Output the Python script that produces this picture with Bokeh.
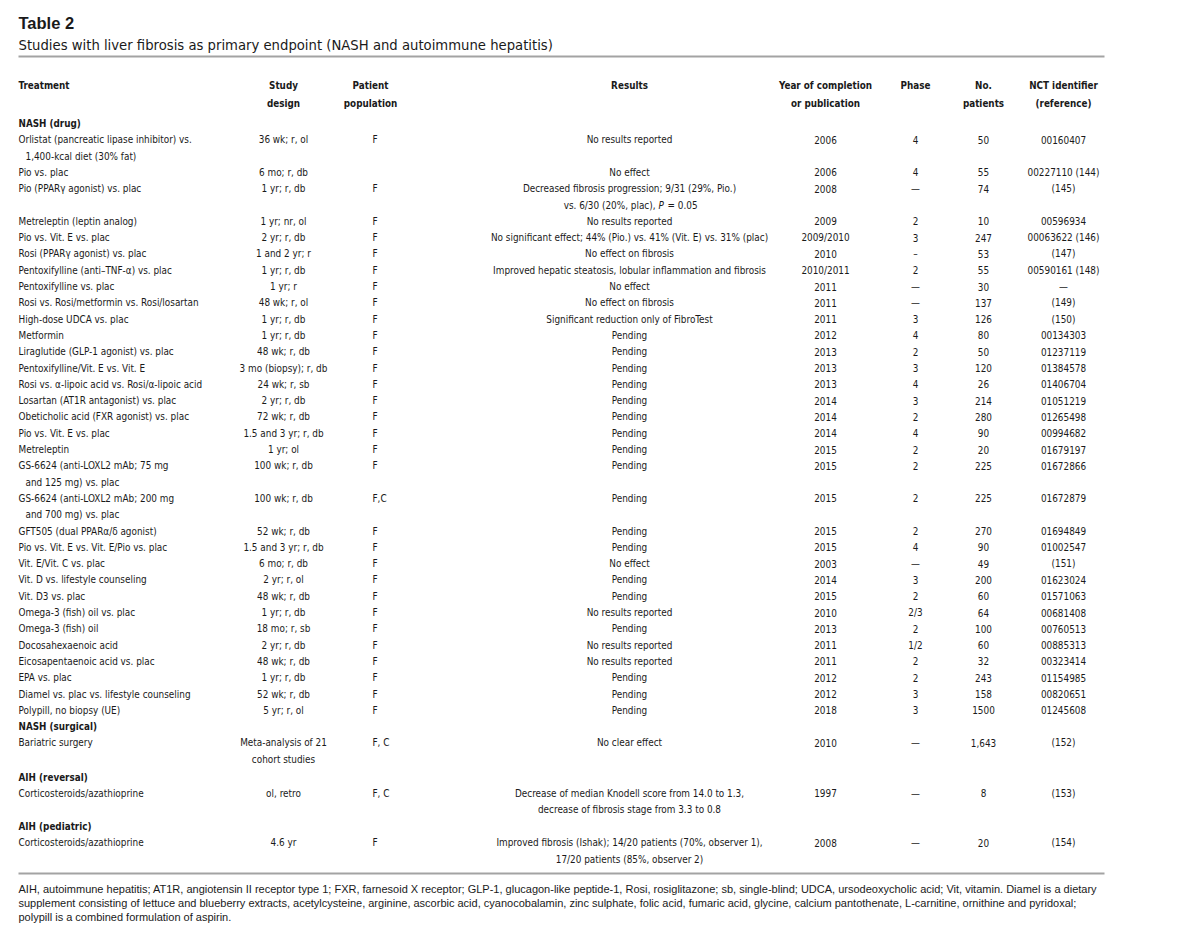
from collections import defaultdict
from bokeh.plotting import figure
from bokeh.models import ColumnDataSource, Range1d
from bokeh.core.properties import value
from bokeh.embed import file_html
from bokeh.resources import INLINE

# ---------------- data ----------------
title = "Table 2"
subtitle = "Studies with liver fibrosis as primary endpoint (NASH and autoimmune hepatitis)"

col_headers = [
    ["Treatment"],
    ["Study", "design"],
    ["Patient", "population"],
    ["Results"],
    ["Year of completion", "or publication"],
    ["Phase"],
    ["No.", "patients"],
    ["NCT identifier", "(reference)"],
]

sections = ["NASH (drug)", "NASH (surgical)", "AIH (reversal)", "AIH (pediatric)"]
section_of_row = [0] * 32 + [1, 2, 3]

treatment = [
    "Orlistat (pancreatic lipase inhibitor) vs.\n1,400-kcal diet (30% fat)",
    "Pio vs. plac",
    "Pio (PPARγ agonist) vs. plac",
    "Metreleptin (leptin analog)",
    "Pio vs. Vit. E vs. plac",
    "Rosi (PPARγ agonist) vs. plac",
    "Pentoxifylline (anti–TNF-α) vs. plac",
    "Pentoxifylline vs. plac",
    "Rosi vs. Rosi/metformin vs. Rosi/losartan",
    "High-dose UDCA vs. plac",
    "Metformin",
    "Liraglutide (GLP-1 agonist) vs. plac",
    "Pentoxifylline/Vit. E vs. Vit. E",
    "Rosi vs. α-lipoic acid vs. Rosi/α-lipoic acid",
    "Losartan (AT1R antagonist) vs. plac",
    "Obeticholic acid (FXR agonist) vs. plac",
    "Pio vs. Vit. E vs. plac",
    "Metreleptin",
    "GS-6624 (anti-LOXL2 mAb; 75 mg\nand 125 mg) vs. plac",
    "GS-6624 (anti-LOXL2 mAb; 200 mg\nand 700 mg) vs. plac",
    "GFT505 (dual PPARα/δ agonist)",
    "Pio vs. Vit. E vs. Vit. E/Pio vs. plac",
    "Vit. E/Vit. C vs. plac",
    "Vit. D vs. lifestyle counseling",
    "Vit. D3 vs. plac",
    "Omega-3 (fish) oil vs. plac",
    "Omega-3 (fish) oil",
    "Docosahexaenoic acid",
    "Eicosapentaenoic acid vs. plac",
    "EPA vs. plac",
    "Diamel vs. plac vs. lifestyle counseling",
    "Polypill, no biopsy (UE)",
    "Bariatric surgery",
    "Corticosteroids/azathioprine",
    "Corticosteroids/azathioprine",
]

design = [
    "36 wk; r, ol", "6 mo; r, db", "1 yr; r, db", "1 yr; nr, ol", "2 yr; r, db",
    "1 and 2 yr; r", "1 yr; r, db", "1 yr; r", "48 wk; r, ol", "1 yr; r, db",
    "1 yr; r, db", "48 wk; r, db", "3 mo (biopsy); r, db", "24 wk; r, sb", "2 yr; r, db",
    "72 wk; r, db", "1.5 and 3 yr; r, db", "1 yr; ol", "100 wk; r, db", "100 wk; r, db",
    "52 wk; r, db", "1.5 and 3 yr; r, db", "6 mo; r, db", "2 yr; r, ol", "48 wk; r, db",
    "1 yr; r, db", "18 mo; r, sb", "2 yr; r, db", "48 wk; r, db", "1 yr; r, db",
    "52 wk; r, db", "5 yr; r, ol",
    "Meta-analysis of 21\ncohort studies",
    "ol, retro",
    "4.6 yr",
]

population = [
    "F", "", "F", "F", "F", "F", "F", "F", "F", "F",
    "F", "F", "F", "F", "F", "F", "F", "F", "F", "F,C",
    "F", "F", "F", "F", "F", "F", "F", "F", "F", "F",
    "F", "F",
    "F, C", "F, C", "F",
]

results = [
    "No results reported",
    "No effect",
    "Decreased fibrosis progression; 9/31 (29%, Pio.)\nvs. 6/30 (20%, plac), P = 0.05",
    "No results reported",
    "No significant effect; 44% (Pio.) vs. 41% (Vit. E) vs. 31% (plac)",
    "No effect on fibrosis",
    "Improved hepatic steatosis, lobular inflammation and fibrosis",
    "No effect",
    "No effect on fibrosis",
    "Significant reduction only of FibroTest",
    "Pending", "Pending", "Pending", "Pending", "Pending",
    "Pending", "Pending", "Pending", "Pending", "Pending",
    "Pending", "Pending",
    "No effect",
    "Pending", "Pending",
    "No results reported",
    "Pending",
    "No results reported",
    "No results reported",
    "Pending", "Pending", "Pending",
    "No clear effect",
    "Decrease of median Knodell score from 14.0 to 1.3,\ndecrease of fibrosis stage from 3.3 to 0.8",
    "Improved fibrosis (Ishak); 14/20 patients (70%, observer 1),\n17/20 patients (85%, observer 2)",
]

year = [
    "2006", "2006", "2008", "2009", "2009/2010", "2010", "2010/2011", "2011", "2011", "2011",
    "2012", "2013", "2013", "2013", "2014", "2014", "2014", "2015", "2015", "2015",
    "2015", "2015", "2003", "2014", "2015", "2010", "2013", "2011", "2011", "2012",
    "2012", "2018", "2010", "1997", "2008",
]

phase = [
    "4", "4", "—", "2", "3", "–", "2", "—", "—", "3",
    "4", "2", "3", "4", "3", "2", "4", "2", "2", "2",
    "2", "4", "—", "3", "2", "2/3", "2", "1/2", "2", "2",
    "3", "3", "—", "—", "—",
]

n_patients = [
    "50", "55", "74", "10", "247", "53", "55", "30", "137", "126",
    "80", "50", "120", "26", "214", "280", "90", "20", "225", "225",
    "270", "90", "49", "200", "60", "64", "100", "60", "32", "243",
    "158", "1500", "1,643", "8", "20",
]

nct_id = [
    "00160407", "00227110 (144)", "(145)", "00596934", "00063622 (146)",
    "(147)", "00590161 (148)", "—", "(149)", "(150)",
    "00134303", "01237119", "01384578", "01406704", "01051219",
    "01265498", "00994682", "01679197", "01672866", "01672879",
    "01694849", "01002547", "(151)", "01623024", "01571063",
    "00681408", "00760513", "00885313", "00323414", "01154985",
    "00820651", "01245608", "(152)", "(153)", "(154)",
]

footnote = [
    "AIH, autoimmune hepatitis; AT1R, angiotensin II receptor type 1; FXR, farnesoid X receptor; GLP-1, glucagon-like peptide-1, Rosi, rosiglitazone; sb, single-blind; UDCA, ursodeoxycholic acid; Vit, vitamin. Diamel is a dietary",
    "supplement consisting of lettuce and blueberry extracts, acetylcysteine, arginine, ascorbic acid, cyanocobalamin, zinc sulphate, folic acid, fumaric acid, glycine, calcium pantothenate, L-carnitine, ornithine and pyridoxal;",
    "polypill is a combined formulation of aspirin.",
]

# ---------------- layout ----------------
W, H = 1184, 925
NARROW = "'Liberation Sans Narrow', 'Arial Narrow', 'DejaVu Sans Condensed', sans-serif"
SANS = "'Liberation Sans', Arial, sans-serif"
INK = "#1a1a1a"
RULE = "#a3a3a3"

LEFT = 18
RULE_RIGHT = 1104
INDENT = 7
cols = [(LEFT, "left"), (283, "center"), (372, "left"), (629, "center"),
        (825, "center"), (915, "center"), (983, "center"), (1063, "center")]
header_x = [LEFT, 283, 370, 629, 825, 915, 983, 1063]
header_align = ["left"] + ["center"] * 7

Y_TITLE, Y_SUB, Y_RULE1 = 22, 44, 56
Y_HEAD, HEAD_PITCH = 85, 17.5
Y_FIRST = 123
PITCH = 16.3
SECTION_GAP = [0, 0, 1.5, 0.5]
Y_RULE2 = 873
Y_FOOT, FOOT_PITCH = 888.5, 14

BODY_SIZE = 9.9
items = defaultdict(lambda: {"x": [], "y": [], "t": []})


def put(style, x, y, t):
    d = items[style]
    d["x"].append(x)
    d["y"].append(y)
    d["t"].append(t)


BODY = (NARROW, BODY_SIZE, "normal")
BOLD = (NARROW, 9.8, "bold")

put((SANS, 16.5, "bold", "left"), LEFT, Y_TITLE, title)
put((NARROW, 14.7, "normal", "left"), LEFT, Y_SUB, subtitle)

for hx, ha, lines in zip(header_x, header_align, col_headers):
    for k, ln in enumerate(lines):
        put(BOLD + (ha,), hx, Y_HEAD + k * HEAD_PITCH, ln)

y = Y_FIRST
current = -1
for i in range(len(treatment)):
    s = section_of_row[i]
    if s != current:
        current = s
        y += SECTION_GAP[s]
        put(BOLD + ("left",), LEFT, y, sections[s])
        y += PITCH
    cells = [treatment[i], design[i], population[i], results[i],
             year[i], phase[i], n_patients[i], nct_id[i]]
    nlines = 1
    for c, (cx, ca) in enumerate(cols):
        lines = cells[c].split("\n")
        nlines = max(nlines, len(lines))
        for k, ln in enumerate(lines):
            ly = y + k * PITCH
            if c == 0 and k > 0:
                put(BODY + ("left",), cx + INDENT, ly, ln)
            elif ", P = " in ln:
                left, right = ln.split(" P = ", 1)
                a = cx + 26
                put(BODY + ("right",), a, ly, left)
                put((NARROW, BODY_SIZE, "italic", "left"), a + 3, ly, "P")
                put(BODY + ("left",), a + 12, ly, "= " + right)
            else:
                put(BODY + (ca,), cx, ly, ln)
    y += nlines * PITCH

for k, ln in enumerate(footnote):
    put((SANS, 11, "normal", "left"), LEFT, Y_FOOT + k * FOOT_PITCH, ln)

# ---------------- figure ----------------
p = figure(width=W, height=H, output_backend="svg", toolbar_location=None,
           x_range=Range1d(0, W), y_range=Range1d(H, 0),
           min_border=0, outline_line_color=None)
p.axis.visible = False
p.grid.visible = False
p.background_fill_color = "white"
p.border_fill_color = "white"

rules = ColumnDataSource(dict(x0=[LEFT, LEFT], x1=[RULE_RIGHT, RULE_RIGHT],
                              y0=[Y_RULE1, Y_RULE2], y1=[Y_RULE1, Y_RULE2]))
p.segment(x0="x0", y0="y0", x1="x1", y1="y1", source=rules,
          line_color=RULE, line_width=2)

for (font, size, style, align), d in items.items():
    src = ColumnDataSource(dict(x=d["x"], y=d["y"], t=d["t"]))
    p.text(x="x", y="y", text="t", source=src,
           text_font=value(font), text_font_size=value(f"{size}px"),
           text_font_style=style, text_align=align, text_baseline="middle",
           text_color=INK)

open("out.html", "w").write(file_html(p, INLINE))
